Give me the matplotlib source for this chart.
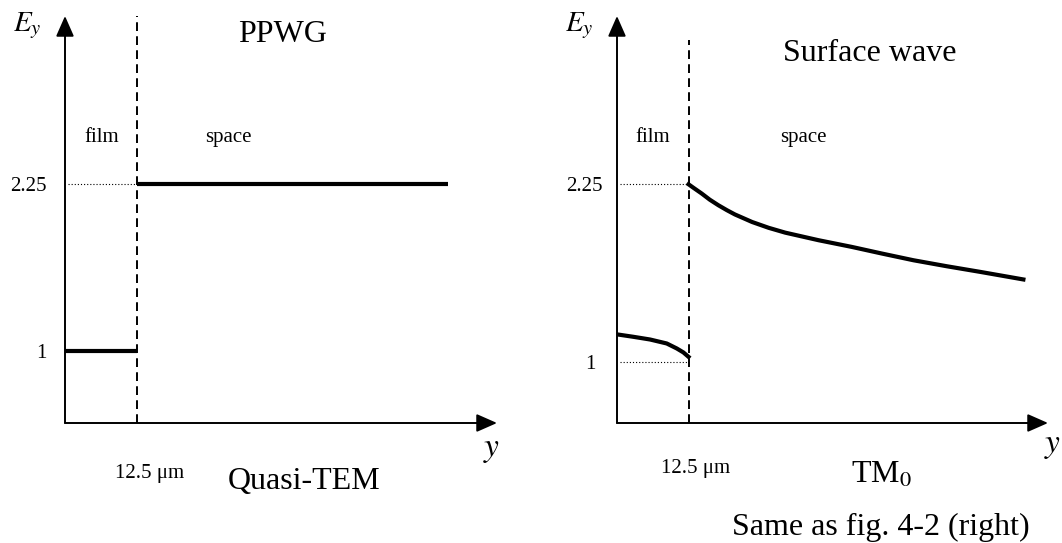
import matplotlib
matplotlib.use("Agg")
import matplotlib.pyplot as plt

plt.rcParams['font.family'] = ['Liberation Serif', 'DejaVu Serif']
plt.rcParams['mathtext.fontset'] = 'stix'

W, H = 1062, 543

# boundary between film and free space (um)
boundary = 12.5

# PPWG / quasi-TEM: E_y is flat in each region
ppwg_film_y = [0.0, 12.5]
ppwg_film_E = [1.0, 1.0]
ppwg_space_y = [12.5, 66.8]
ppwg_space_E = [2.25, 2.25]

# surface wave / TM0: E_y decays away from the film
tm0_film_y = [0.0, 2.85, 5.77, 8.69, 10.44, 11.6, 12.5]
tm0_film_E = [1.195, 1.178, 1.159, 1.131, 1.096, 1.068, 1.037]
tm0_space_y = [12.5, 13.3, 14.8, 16.2, 17.7, 19.2, 20.6, 23.6, 26.5, 29.4,
               35.2, 41.0, 46.3, 51.8, 57.6, 63.5, 71.0]
tm0_space_E = [2.25, 2.227, 2.185, 2.142, 2.103, 2.068, 2.038, 1.985,
               1.944, 1.910, 1.857, 1.810, 1.763, 1.716, 1.674, 1.634,
               1.581]

levels = [1.0, 2.25]
level_labels = ['1', '2.25']


def fpos(x, y):
    # pixel position -> figure fraction
    return x / W, 1 - y / H


def draw_axes(ax, xmax, ylo, yhi):
    ax.set_xlim(0, xmax)
    ax.set_ylim(ylo, yhi)
    ax.axis('off')
    arrow = dict(arrowstyle='-|>,head_length=1.25,head_width=0.55',
                 mutation_scale=10, lw=1.4, color='k',
                 shrinkA=0, shrinkB=0)
    ax.annotate('', xy=(0, yhi), xytext=(0, ylo), arrowprops=arrow,
                annotation_clip=False)
    ax.annotate('', xy=(xmax, ylo), xytext=(0, ylo), arrowprops=arrow,
                annotation_clip=False)


def dotted(ax, level):
    ax.plot([0.55, boundary], [level, level], color='k', lw=0.8,
            dashes=(1, 1.8), dash_capstyle='butt', clip_on=False)


curve = dict(color='k', lw=3, solid_joinstyle='round')

fig = plt.figure(figsize=(W / 100, H / 100), dpi=100)

# ---- left: PPWG ----
axL = fig.add_axes([65 / W, 120 / H, (497 - 65) / W, (423 - 16) / H])
draw_axes(axL, 75.3, 0.461, 3.507)
axL.plot([boundary, boundary], [0.461, 3.507], color='k', lw=1.4,
         dashes=(4.5, 2.7), clip_on=False)
dotted(axL, 2.25)
axL.plot(ppwg_film_y, ppwg_film_E, solid_capstyle='butt', **curve)
axL.plot(ppwg_space_y, ppwg_space_E, solid_capstyle='butt', **curve)
for lv, lab in zip(levels, level_labels):
    axL.text(-3.2, lv, lab, ha='right', va='center_baseline', fontsize=15)

# ---- right: surface wave ----
axR = fig.add_axes([617 / W, 120 / H, (1048 - 617) / W, (423 - 16) / H])
draw_axes(axR, 75.3, 0.572, 3.433)
axR.plot([boundary, boundary], [0.572, 3.261], color='k', lw=1.4,
         dashes=(4.5, 2.7), clip_on=False)
for lv in levels:
    dotted(axR, lv)
axR.plot(tm0_film_y, tm0_film_E, **curve)
axR.plot(tm0_space_y, tm0_space_E, **curve)
axR.text(-2.45, 2.25, '2.25', ha='right', va='center_baseline', fontsize=15)
axR.text(-3.7, 1.0, '1', ha='right', va='center_baseline', fontsize=15)

# ---- labels ----
big = 23
small = 15
fig.text(*fpos(13, 31), '$E_y$', fontsize=21, ha='left', va='baseline')
fig.text(*fpos(565, 31), '$E_y$', fontsize=21, ha='left', va='baseline')
fig.text(*fpos(283, 41.6), 'PPWG', fontsize=big, ha='center', va='baseline')
fig.text(*fpos(870, 60.7), 'Surface wave', fontsize=big, ha='center',
         va='baseline')
fig.text(*fpos(102, 142), 'film', fontsize=small, ha='center', va='baseline')
fig.text(*fpos(228, 142), 'space', fontsize=small, ha='center', va='baseline')
fig.text(*fpos(653, 142), 'film', fontsize=small, ha='center', va='baseline')
fig.text(*fpos(803, 142), 'space', fontsize=small, ha='center', va='baseline')
fig.text(*fpos(492, 456), '$y$', fontsize=24, ha='center', va='baseline')
fig.text(*fpos(1053, 452), '$y$', fontsize=24, ha='center', va='baseline')
fig.text(*fpos(150, 478), '12.5 μm', fontsize=small, ha='center',
         va='baseline')
fig.text(*fpos(696, 473), '12.5 μm', fontsize=small, ha='center',
         va='baseline')
fig.text(*fpos(304, 489), 'Quasi-TEM', fontsize=big, ha='center',
         va='baseline')
fig.text(*fpos(882, 483), 'TM$_0$', fontsize=big, ha='center', va='baseline')
fig.text(*fpos(881, 535), 'Same as fig. 4-2 (right)', fontsize=big,
         ha='center', va='baseline')

fig.savefig('out.png', dpi=100)
